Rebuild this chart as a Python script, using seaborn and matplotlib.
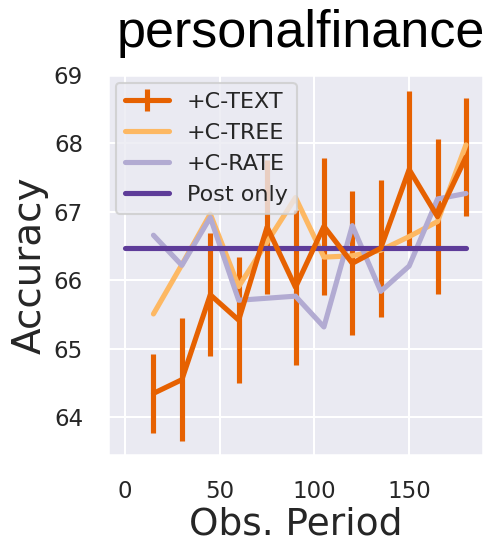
import matplotlib
matplotlib.use("Agg")
import matplotlib.pyplot as plt
import seaborn as sns
import numpy as np

# ---- data ----
obs_period = [15, 30, 45, 60, 75, 90, 105, 120, 135, 150, 165, 180]
c_text_mean = [64.35, 64.55, 65.79, 65.42, 66.78, 65.90, 66.79, 66.25, 66.47, 67.62, 66.93, 67.80]
c_text_err = [0.58, 0.90, 0.90, 0.92, 0.98, 1.13, 1.00, 1.05, 1.00, 1.15, 1.13, 0.86]
c_tree = [65.51, 66.23, 66.97, 65.91, 66.56, 67.21, 66.34, 66.36, 66.44, 66.64, 66.86, 67.98]
c_rate = [66.66, 66.22, 66.92, 65.71, 65.74, 65.77, 65.32, 66.80, 65.84, 66.21, 67.19, 67.27]
post_only_x = [0, 180]
post_only = 66.47

labels = ["+C-TEXT", "+C-TREE", "+C-RATE", "Post only"]
colors = ["#e66101", "#fdb863", "#b2abd2", "#5e3c99"]

sns.set_theme(context="talk", style="darkgrid")
plt.rcParams["font.family"] = ["DejaVu Sans"]

fig = plt.figure(figsize=(4.87, 5.41), dpi=100)
ax = fig.add_axes([108 / 487, 1 - 455 / 541, (483 - 108) / 487, (455 - 75) / 541])

lw = 3.7
eb = ax.errorbar(obs_period, c_text_mean, yerr=c_text_err, color=colors[0],
                 lw=lw, elinewidth=lw, label=labels[0], solid_capstyle="round")
sns.lineplot(x=obs_period, y=c_tree, color=colors[1], lw=lw, ax=ax,
             label=labels[1], solid_capstyle="round")
sns.lineplot(x=obs_period, y=c_rate, color=colors[2], lw=lw, ax=ax,
             label=labels[2], solid_capstyle="round")
sns.lineplot(x=post_only_x, y=[post_only] * len(post_only_x), color=colors[3],
             lw=lw, ax=ax, label=labels[3], solid_capstyle="round")

handles, labs = ax.get_legend_handles_labels()
order = [labs.index(l) for l in labels]
ax.legend([handles[i] for i in order], [labs[i] for i in order],
          loc="upper left", fontsize=16, borderaxespad=0.35)

ax.set_ylim(63.45, 69.0)
ax.set_xticks([0, 50, 100, 150])
ax.set_yticks([64, 65, 66, 67, 68, 69])
ax.tick_params(axis="x", pad=9, labelsize=16.5)
ax.tick_params(axis="y", pad=9, labelsize=16.5)
ax.set_xlabel("Obs. Period", fontsize=27, labelpad=2.5)
ax.set_ylabel("Accuracy", fontsize=28, labelpad=4)
ax.set_title("personalfinance", fontsize=37.5, color="black", pad=20, x=0.513,
             family=["Liberation Sans", "DejaVu Sans"])

fig.savefig("out.png", dpi=100)
